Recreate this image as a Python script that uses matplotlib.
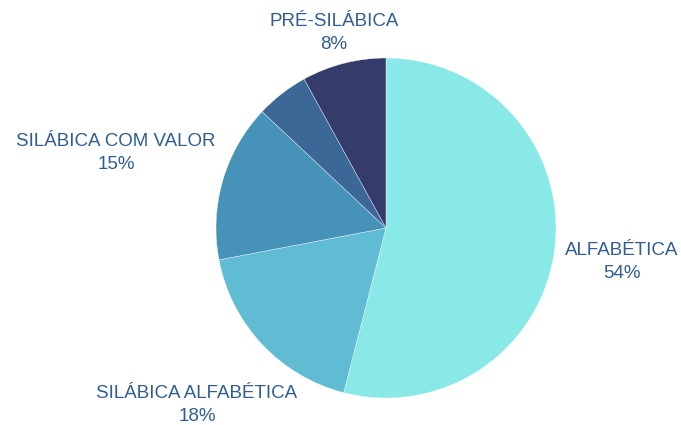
import matplotlib.pyplot as plt

plt.rcParams["font.family"] = ["Liberation Sans", "DejaVu Sans"]

# -----------------------------------------------------------
# data (clockwise from 12 o'clock)
# -----------------------------------------------------------
categories = ["ALFABÉTICA", "SILÁBICA ALFABÉTICA", "SILÁBICA COM VALOR",
              "SILÁBICA SEM VALOR", "PRÉ-SILÁBICA"]
values = [54, 18, 15, 5, 8]
show_label = [True, True, True, False, True]

colors = ["#88e9e7", "#5fbcd3", "#4792b9", "#3c6897", "#343c6c"]
text_color = "#2f5d93"

# label anchor positions in pixel coords (x, y from top)
label_pos = [(622, 262), (197, 405), (116, 153), None, (334, 33)]

W, H = 681, 425
fig = plt.figure(figsize=(W / 100, H / 100), dpi=100)
ax = fig.add_axes([0, 0, 1, 1])
ax.set_xlim(0, W)
ax.set_ylim(0, H)
ax.set_aspect("equal")
ax.axis("off")

ax.pie(values, colors=colors, startangle=90, counterclock=False,
       center=(386, H - 228), radius=170,
       wedgeprops=dict(edgecolor="white", linewidth=0.25))
ax.set_xlim(0, W)
ax.set_ylim(0, H)

total = sum(values)
for name, v, show, pos in zip(categories, values, show_label, label_pos):
    if not show:
        continue
    pct = round(100 * v / total)
    ax.text(pos[0], H - pos[1], f"{name}\n{pct}%", ha="center", va="center",
            fontsize=13.5, color=text_color, linespacing=1.4)

fig.savefig("out.png", dpi=100)
